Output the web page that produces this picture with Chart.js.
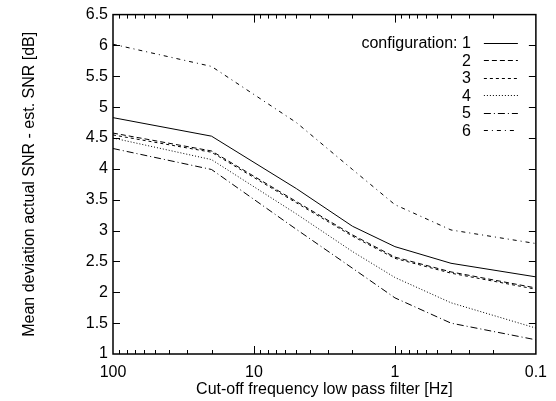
<!DOCTYPE html>
<html>
<head>
<meta charset="utf-8">
<script src="https://cdn.jsdelivr.net/npm/chart.js@4"></script>
<style>
  html, body { margin: 0; padding: 0; background: #fff; }
  #wrap { width: 556px; height: 401px; }
</style>
</head>
<body>
<div id="wrap"><canvas id="snrChart" width="556" height="401"></canvas></div>
<script>
// cut-off frequencies of the low pass filter [Hz]
const freqs = [100, 20, 5, 2, 1, 0.4, 0.1];
const legendNames = ['configuration: 1', '2', '3', '4', '5', '6'];

// mean deviation per configuration [dB]
const conf1 = [4.83, 4.53, 3.68, 3.07, 2.74, 2.47, 2.25];
const conf2 = [4.58, 4.29, 3.47, 2.93, 2.57, 2.33, 2.07];
const conf3 = [4.55, 4.27, 3.45, 2.91, 2.55, 2.31, 2.05];
const conf4 = [4.50, 4.15, 3.27, 2.66, 2.24, 1.83, 1.42];
const conf5 = [4.33, 3.99, 3.02, 2.39, 1.91, 1.50, 1.23];
const conf6 = [6.02, 5.66, 4.75, 3.99, 3.42, 3.01, 2.79];

const xMajor = [100, 10, 1, 0.1];
const yTicks = [1, 1.5, 2, 2.5, 3, 3.5, 4, 4.5, 5, 5.5, 6, 6.5];

const dashes = [[], [5, 3], [3, 3], [1, 2], [7, 3, 1, 3], [4, 4, 1, 4]];
const series = [conf1, conf2, conf3, conf4, conf5, conf6];

const FONT = '"Liberation Sans", Arial, Helvetica, sans-serif';

const datasets = series.map((vals, i) => ({
  label: legendNames[i],
  data: freqs.map((f, j) => ({ x: f, y: vals[j] })),
  borderColor: '#000',
  borderWidth: 1,
  borderDash: dashes[i],
  pointRadius: 0,
  fill: false,
  tension: 0
}));

// gnuplot-like frame, inward ticks and key
const frameTicks = {
  id: 'frameTicks',
  afterDraw(chart) {
    const { ctx, chartArea: a, scales } = chart;
    const xs = scales.x, ys = scales.y;
    ctx.save();
    ctx.strokeStyle = '#000';
    ctx.lineWidth = 1;
    ctx.setLineDash([]);
    ctx.beginPath();
    yTicks.forEach(v => {
      const py = Math.round(ys.getPixelForValue(v)) + 0.5;
      if (v > 1 && v < 6.5) {
        ctx.moveTo(a.left, py); ctx.lineTo(a.left + 7, py);
        ctx.moveTo(a.right, py); ctx.lineTo(a.right - 7, py);
      }
    });
    for (let d = 0.1; d < 100; d *= 10) {
      for (let k = 1; k <= 9; k++) {
        const v = d * k;
        const px = Math.round(xs.getPixelForValue(v)) + 0.5;
        const len = k === 1 ? 8 : 4;
        if (v <= 0.1 + 1e-9) continue;
        ctx.moveTo(px, a.bottom); ctx.lineTo(px, a.bottom - len);
        ctx.moveTo(px, a.top); ctx.lineTo(px, a.top + len);
      }
    }
    ctx.stroke();
    ctx.lineWidth = 1.5;
    ctx.strokeRect(a.left, a.top, a.right - a.left, a.bottom - a.top);

    // key
    ctx.font = '16px ' + FONT;
    ctx.fillStyle = '#000';
    ctx.textAlign = 'right';
    ctx.textBaseline = 'middle';
    chart.data.datasets.forEach((ds, i) => {
      const y = a.top + 28 + i * 17.5;
      ctx.fillText(ds.label, a.right - 65, y + 1);
      ctx.lineWidth = 1;
      ctx.setLineDash(ds.borderDash);
      ctx.beginPath();
      ctx.moveTo(a.right - 52, Math.round(y) + 0.5);
      ctx.lineTo(a.right - 18, Math.round(y) + 0.5);
      ctx.stroke();
    });
    ctx.restore();
  }
};

new Chart(document.getElementById('snrChart'), {
  type: 'line',
  data: { datasets },
  plugins: [frameTicks],
  options: {
    responsive: false,
    animation: false,
    layout: { padding: { top: 14, right: 19, left: 0, bottom: 0 } },
    plugins: { legend: { display: false }, tooltip: { enabled: false } },
    scales: {
      x: {
        type: 'logarithmic',
        reverse: true,
        min: 0.1,
        max: 100,
        afterBuildTicks(scale) { scale.ticks = xMajor.map(v => ({ value: v })); },
        afterFit(scale) { scale.height = 47; },
        ticks: {
          color: '#000',
          font: { family: FONT, size: 16 },
          padding: 9,
          maxRotation: 0,
          callback: v => String(v)
        },
        grid: { display: false, drawTicks: false },
        border: { display: false },
        title: {
          display: true,
          text: 'Cut-off frequency low pass filter [Hz]',
          color: '#000',
          font: { family: FONT, size: 16 },
          padding: { top: 0, bottom: 2 }
        }
      },
      y: {
        min: 1,
        max: 6.5,
        afterBuildTicks(scale) { scale.ticks = yTicks.map(v => ({ value: v })); },
        afterFit(scale) { scale.width = 113; },
        ticks: {
          color: '#000',
          font: { family: FONT, size: 16 },
          padding: 5,
          callback: v => String(v)
        },
        grid: { display: false, drawTicks: false },
        border: { display: false },
        title: {
          display: true,
          text: 'Mean deviation actual SNR - est. SNR [dB]',
          color: '#000',
          font: { family: FONT, size: 16 },
          padding: { top: 20, bottom: 0 }
        }
      }
    }
  }
});
</script>
</body>
</html>
